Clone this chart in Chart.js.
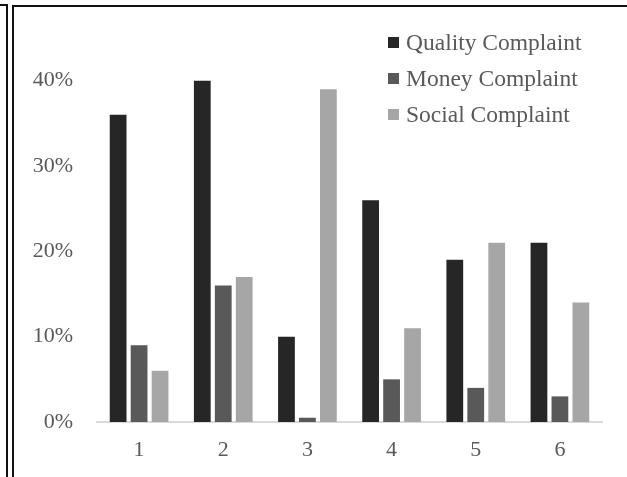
<!DOCTYPE html>
<html>
<head>
<meta charset="utf-8">
<script src="https://cdn.jsdelivr.net/npm/chart.js@4.4.1/dist/chart.umd.min.js"></script>
<style>
  html, body { margin: 0; padding: 0; background: #fff; overflow: hidden; }
  #wrap { position: relative; width: 627px; height: 477px; }
  #c { position: absolute; left: 0; top: 0; }
  .frame { position: absolute; border: 2px solid #111; box-sizing: border-box; pointer-events: none; }
  #frameLeft { left: -20px; top: 4px; width: 28px; height: 500px; }
  #frameMain { left: 12px; top: 5px; width: 640px; height: 500px; }
</style>
</head>
<body>
<div id="wrap">
  <canvas id="c" width="627" height="477"></canvas>
  <div class="frame" id="frameLeft"></div>
  <div class="frame" id="frameMain"></div>
</div>
<script>
// Complaint shares per group
const categories = ['1', '2', '3', '4', '5', '6'];
const qualityComplaint = [0.36, 0.40, 0.10, 0.26, 0.19, 0.21];
const moneyComplaint   = [0.09, 0.16, 0.005, 0.05, 0.04, 0.03];
const socialComplaint  = [0.06, 0.17, 0.39, 0.11, 0.21, 0.14];
const seriesNames = ['Quality Complaint', 'Money Complaint', 'Social Complaint'];
const seriesColors = ['#262626', '#595959', '#a6a6a6'];
const yTickValues = [0, 0.1, 0.2, 0.3, 0.4];

const FONT = '"Liberation Serif", "Times New Roman", serif';
const TEXT = '#595959';

// Legend drawn as a stacked list in the upper-right of the plot
const insideLegend = {
  id: 'insideLegend',
  afterDraw(chart) {
    const ctx = chart.ctx;
    ctx.save();
    ctx.font = '23.5px ' + FONT;
    ctx.textBaseline = 'middle';
    ctx.textAlign = 'left';
    chart.data.datasets.forEach((ds, i) => {
      const y = 42.5 + i * 36;
      ctx.fillStyle = ds.backgroundColor;
      ctx.fillRect(388, y - 5.5, 11, 11);
      ctx.fillStyle = TEXT;
      ctx.fillText(ds.label, 406, y + 1);
    });
    ctx.restore();
  }
};

const seriesValues = [qualityComplaint, moneyComplaint, socialComplaint];

new Chart(document.getElementById('c'), {
  type: 'bar',
  data: {
    labels: categories,
    datasets: seriesNames.map((name, i) => ({
      label: name,
      data: seriesValues[i],
      backgroundColor: seriesColors[i],
      borderWidth: 0,
      categoryPercentage: 0.747,
      barPercentage: 0.8
    }))
  },
  options: {
    responsive: false,
    animation: false,
    layout: { padding: { left: 0, right: 25, top: 38, bottom: 0 } },
    plugins: {
      legend: { display: false },
      tooltip: { enabled: false },
      title: { display: false }
    },
    scales: {
      x: {
        grid: { display: false, drawTicks: false },
        border: { display: true, color: '#d9d9d9', width: 2 },
        afterFit(scale) { scale.height = 55; },
        ticks: { color: TEXT, font: { family: FONT, size: 22 }, padding: 15 }
      },
      y: {
        min: 0,
        max: 0.45,
        grid: { display: false, drawTicks: false },
        border: { display: false },
        afterBuildTicks(scale) {
          scale.ticks = yTickValues.map(v => ({ value: v }));
        },
        afterFit(scale) { scale.width = 97; },
        ticks: {
          color: TEXT,
          font: { family: FONT, size: 22 },
          padding: 24,
          callback: v => Math.round(v * 100) + '%'
        }
      }
    }
  },
  plugins: [insideLegend]
});
</script>
</body>
</html>
